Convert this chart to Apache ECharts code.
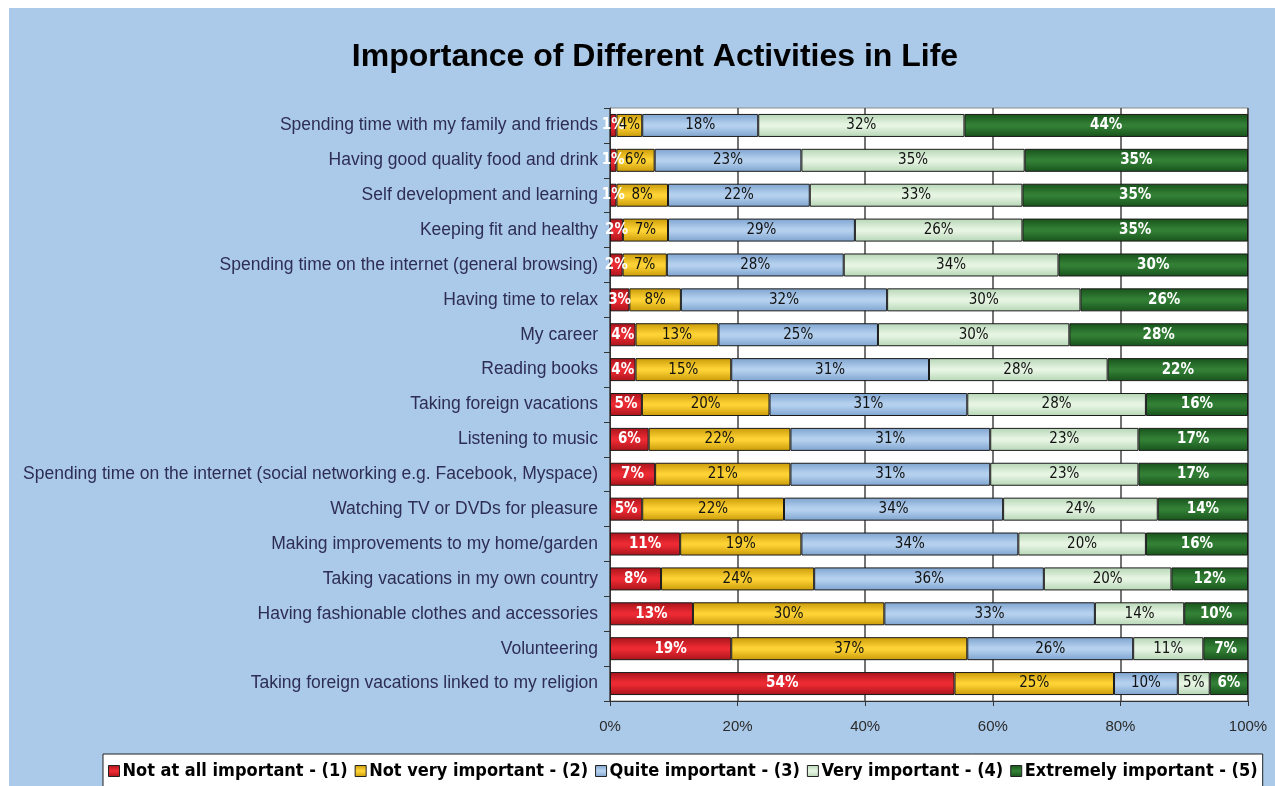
<!DOCTYPE html>
<html>
<head>
<meta charset="utf-8">
<script src="https://cdn.jsdelivr.net/npm/echarts@6/dist/echarts.min.js"></script>
<style>
    html, body { margin: 0; padding: 0; background: #ffffff; }
    #frame { position: absolute; left: 9px; top: 8px; width: 1266px; height: 778px; background: #abc9e8; }
    #chart { position: absolute; left: 0; top: 0; width: 1275px; height: 786px; }
</style>
</head>
<body>
<div id="frame"></div>
<div id="chart"></div>
<script>
const activities = [
    "Spending time with my family and friends",
    "Having good quality food and drink",
    "Self development and learning",
    "Keeping fit and healthy",
    "Spending time on the internet (general browsing)",
    "Having time to relax",
    "My career",
    "Reading books",
    "Taking foreign vacations",
    "Listening to music",
    "Spending time on the internet (social networking e.g. Facebook, Myspace)",
    "Watching TV or DVDs for pleasure",
    "Making improvements to my home/garden",
    "Taking vacations in my own country",
    "Having fashionable clothes and accessories",
    "Volunteering",
    "Taking foreign vacations linked to my religion"
];

const levels = [
    "Not at all important - (1)",
    "Not very important - (2)",
    "Quite important - (3)",
    "Very important - (4)",
    "Extremely important - (5)"
];

// percentages as printed on each bar segment
const notAtAll   = [1, 1, 1, 2, 2, 3, 4, 4, 5, 6, 7, 5, 11, 8, 13, 19, 54];
const notVery    = [4, 6, 8, 7, 7, 8, 13, 15, 20, 22, 21, 22, 19, 24, 30, 37, 25];
const quite      = [18, 23, 22, 29, 28, 32, 25, 31, 31, 31, 31, 34, 34, 36, 33, 26, 10];
const very       = [32, 35, 33, 26, 34, 30, 30, 28, 28, 23, 23, 24, 20, 20, 14, 11, 5];
const extremely  = [44, 35, 35, 35, 30, 26, 28, 22, 16, 17, 17, 14, 16, 12, 10, 7, 6];

const xTicks = [0, 20, 40, 60, 80, 100];

// [edge, middle] colours for the shaded bars
const shades = [
    ["#a8141b", "#ec2a33"],
    ["#c99a08", "#fdd235"],
    ["#7ea3cf", "#b4d0ee"],
    ["#b5d6b5", "#e6f4e2"],
    ["#18521b", "#327f35"]
];
const labelColors = ["#ffffff", "#111111", "#111111", "#111111", "#ffffff"];

const allSeries = [notAtAll, notVery, quite, very, extremely];

// rounded labels don't always sum to 100, so scale each row to 100
const rowSums = activities.map((_, i) => allSeries.reduce((s, arr) => s + arr[i], 0));

function shade(c) {
    return new echarts.graphic.LinearGradient(0, 0, 0, 1, [
        { offset: 0, color: c[0] },
        { offset: 0.45, color: c[1] },
        { offset: 0.55, color: c[1] },
        { offset: 1, color: c[0] }
    ]);
}

const chart = echarts.init(document.getElementById("chart"), null, { renderer: "canvas" });

chart.setOption({
    animation: false,
    backgroundColor: "transparent",
    title: {
        text: "Importance of Different Activities in Life",
        left: 650,
        textAlign: "center",
        top: 36,
        textStyle: { fontFamily: "Liberation Sans", fontSize: 32, fontWeight: "bold", color: "#000" }
    },
    grid: {
        left: 610, right: 27, top: 108, bottom: 85,
        show: true, backgroundColor: "#ffffff", borderColor: "#8c8c8c", borderWidth: 1
    },
    legend: {
        data: levels,
        left: 103, top: 754,
        backgroundColor: "#ffffff",
        borderColor: "#222", borderWidth: 1,
        padding: [8, 5, 12, 5],
        itemGap: 7,
        itemWidth: 11, itemHeight: 11,
        icon: "rect",
        itemStyle: { borderColor: "#222", borderWidth: 1 },
        textStyle: { fontFamily: "DejaVu Sans Condensed", fontSize: 18, fontWeight: "bold", color: "#000", padding: [0, 0, 0, -2] }
    },
    xAxis: {
        type: "value",
        min: 0, max: 100, interval: 20,
        axisLine: { show: true, lineStyle: { color: "#333" } },
        axisTick: { show: true, length: 5, lineStyle: { color: "#333" } },
        splitLine: { lineStyle: { color: "#444", width: 1.5 } },
        axisLabel: {
            formatter: v => xTicks.includes(v) ? v + "%" : "",
            margin: 18,
            fontFamily: "Liberation Sans", fontSize: 15, color: "#2b2b2b"
        }
    },
    yAxis: {
        type: "category",
        data: activities,
        inverse: true,
        axisLine: { show: true, lineStyle: { color: "#333" } },
        axisTick: { show: true, length: 6, lineStyle: { color: "#333" } },
        axisLabel: { margin: 12, fontFamily: "Liberation Sans", fontSize: 17.5, color: "#2d2d55" }
    },
    series: allSeries.map((arr, k) => ({
        name: levels[k],
        type: "bar",
        stack: "total",
        barWidth: 23,
        data: arr.map((v, i) => ({ value: v * 100 / rowSums[i], raw: v })),
        itemStyle: { color: shade(shades[k]), borderColor: "#1a1a1a", borderWidth: 1 },
        label: {
            show: true,
            position: "inside",
            formatter: p => p.data.raw + "%",
            fontFamily: "DejaVu Sans Condensed",
            fontSize: 15,
            fontWeight: k === 0 || k === 4 ? "bold" : "normal",
            color: labelColors[k]
        }
    }))
});
</script>
</body>
</html>
